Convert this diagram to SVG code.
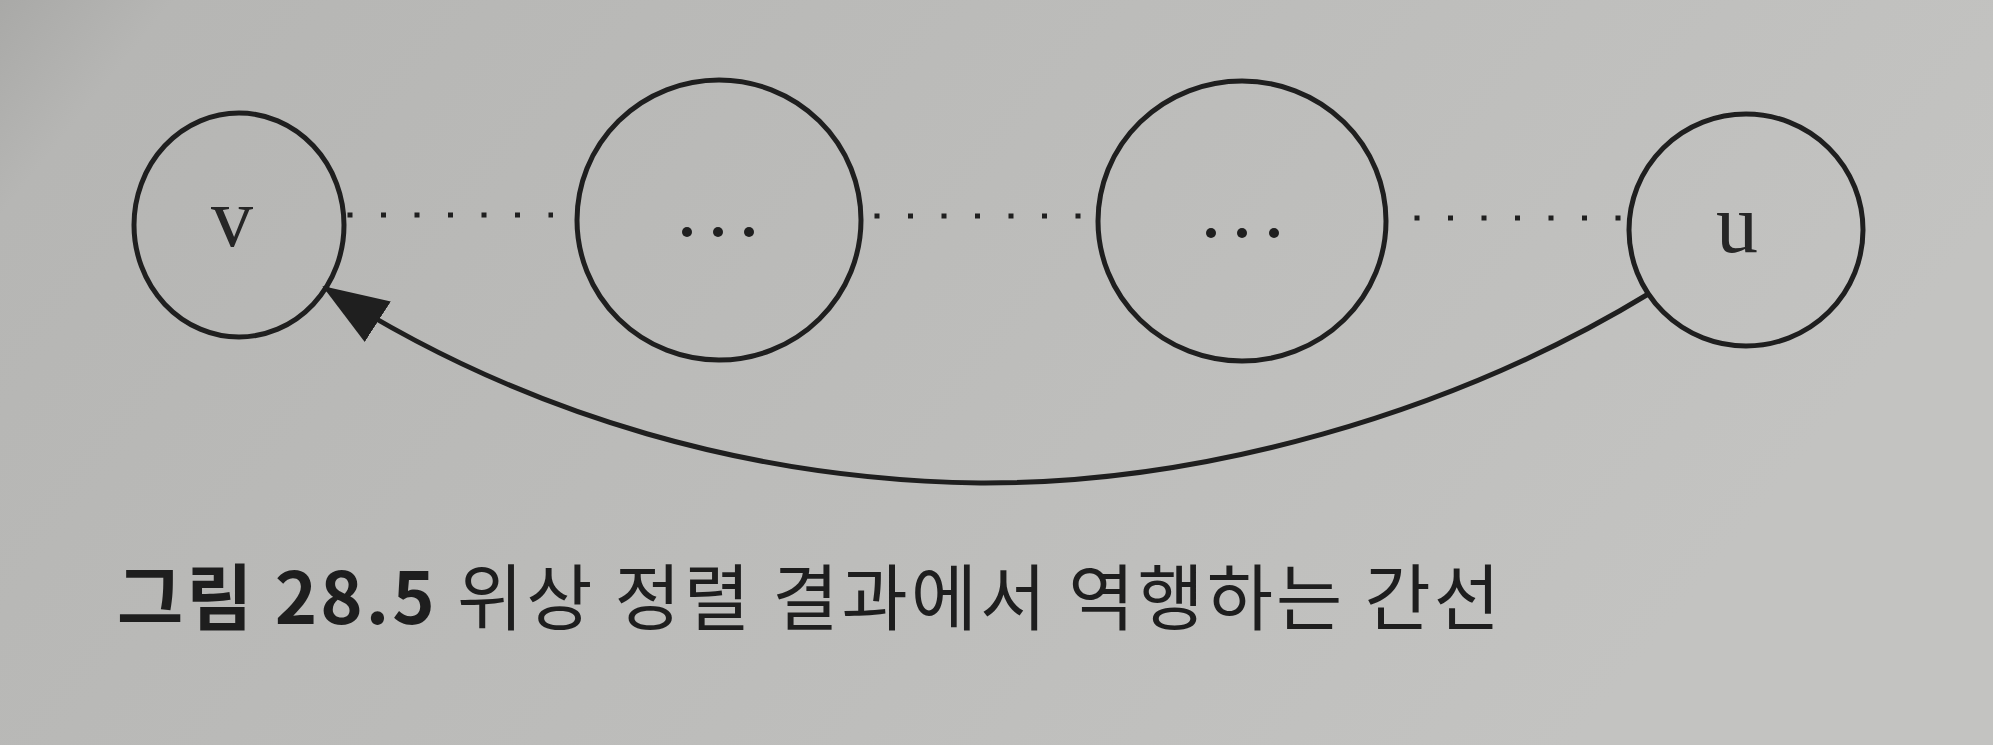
<svg xmlns="http://www.w3.org/2000/svg" width="1993" height="745" viewBox="0 0 1993 745">
  <defs>
    <linearGradient id="paper" x1="0" y1="0" x2="1" y2="0.3">
      <stop offset="0" stop-color="#a9a9a7"/>
      <stop offset="0.08" stop-color="#b6b6b4"/>
      <stop offset="0.6" stop-color="#bdbdbb"/>
      <stop offset="1" stop-color="#c3c3c1"/>
    </linearGradient>
    <marker id="arrow" markerUnits="userSpaceOnUse" markerWidth="70" markerHeight="50" refX="64" refY="24" orient="auto">
      <path d="M0,0 L66,24 L0,48 Z" fill="#1f1f1f"/>
    </marker>
    <style>
      .node { fill: none; stroke: #1f1f1f; stroke-width: 5; }
      .lbl { font-family: "Liberation Serif", "DejaVu Serif", serif; font-size: 84px; fill: #262626; text-anchor: middle; }
      .dot { fill: #1f1f1f; }
      .dotted { stroke: #1f1f1f; stroke-width: 5; stroke-dasharray: 5 28.5; fill: none; }
      .edge { stroke: #1f1f1f; stroke-width: 5; fill: none; }
      .cap { font-family: "Noto Sans CJK KR", "Noto Sans", sans-serif; font-size: 72px; fill: #1e1e1e; }
    </style>
  </defs>
  <rect x="0" y="0" width="1993" height="745" fill="url(#paper)"/>

  <g id="node-v">
    <ellipse class="node" cx="239" cy="225" rx="105" ry="112"/>
    <text class="lbl" x="232" y="246">v</text>
  </g>
  <g id="node-mid1">
    <ellipse class="node" cx="719" cy="220" rx="142" ry="140"/>
    <circle class="dot" cx="687" cy="232" r="5"/>
    <circle class="dot" cx="718" cy="232" r="5"/>
    <circle class="dot" cx="749" cy="232" r="5"/>
  </g>
  <g id="node-mid2">
    <ellipse class="node" cx="1242" cy="221" rx="144" ry="140"/>
    <circle class="dot" cx="1211" cy="233" r="5"/>
    <circle class="dot" cx="1242" cy="233" r="5"/>
    <circle class="dot" cx="1274" cy="233" r="5"/>
  </g>
  <g id="node-u">
    <ellipse class="node" cx="1746" cy="230" rx="117" ry="116"/>
    <text class="lbl" x="1737" y="252">u</text>
  </g>

  <g id="connectors">
    <line class="dotted" x1="347.5" y1="215" x2="553" y2="215"/>
    <line class="dotted" x1="874.5" y1="216" x2="1085" y2="216"/>
    <line class="dotted" x1="1414.5" y1="218" x2="1628" y2="218"/>
    <path class="edge" d="M1650,293 C1450,415 1200,484 980,483 C760,480 530,420 324,287" marker-end="url(#arrow)"/>
  </g>

  <text class="cap" x="117" y="624" textLength="1383" lengthAdjust="spacing"><tspan font-weight="bold">그림 28.5</tspan> 위상 정렬 결과에서 역행하는 간선</text>
</svg>
